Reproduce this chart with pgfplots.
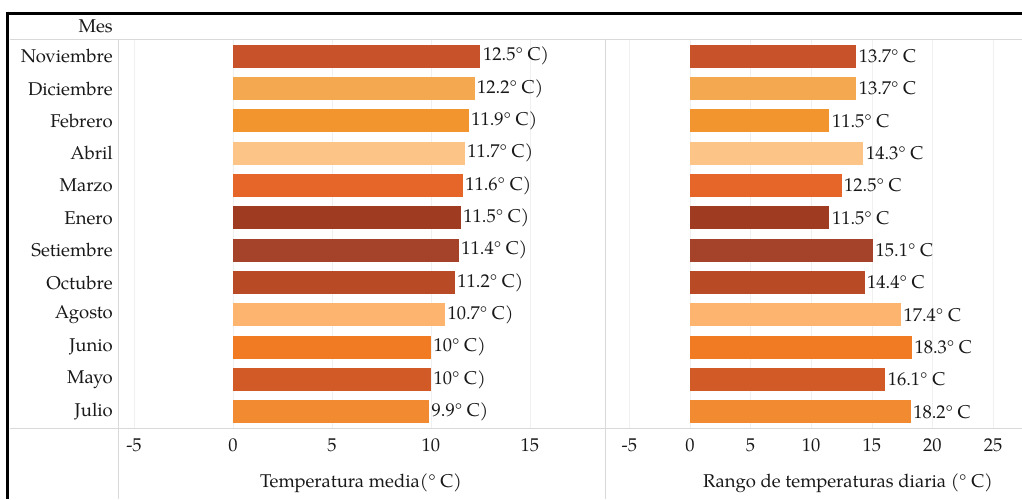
\documentclass[border=0pt]{standalone}
\usepackage{pgfplots}
\pgfplotsset{compat=1.18}
\usepackage{fontspec}
\setmainfont{TeX Gyre Pagella}

\definecolor{cNov}{HTML}{C8532A}
\definecolor{cDic}{HTML}{F4A951}
\definecolor{cFeb}{HTML}{F3952F}
\definecolor{cAbr}{HTML}{FDC488}
\definecolor{cMar}{HTML}{E6662A}
\definecolor{cEne}{HTML}{9E3B20}
\definecolor{cSet}{HTML}{A4422A}
\definecolor{cOct}{HTML}{B84A25}
\definecolor{cAgo}{HTML}{FDB46E}
\definecolor{cJun}{HTML}{F07B22}
\definecolor{cMay}{HTML}{D25A26}
\definecolor{cJul}{HTML}{F18A30}
\definecolor{sep}{HTML}{D9D9D9}

\newcommand\lbl{\fontsize{18.5}{20}\selectfont}

\pgfplotsset{
  panel/.style={
    scale only axis, height=388pt, anchor=south west,
    xbar, bar width=0.72, bar shift=0pt,
    y dir=reverse, ymin=-0.5, ymax=11.5,
    axis line style={draw=none}, major tick length=0pt,
    xmajorgrids, major grid style={draw=black!6},
    /pgf/number format/assume math mode=true,
    tick label style={font=\lbl, text=black!90},
    xticklabel style={yshift=-7pt},
    point meta=x,
    nodes near coords,
    every node near coord/.append style={font=\lbl, text=black!90, inner sep=2.5pt},
  },
}

\begin{document}
\begin{tikzpicture}
\path[use as bounding box] (0,0) rectangle (1022pt,499pt);

% separator lines
\draw[sep, line width=1pt] (10pt,459pt) -- (1022pt,459pt);
\draw[sep, line width=1pt] (10pt,71pt) -- (1022pt,71pt);
\draw[sep, line width=1pt] (118pt,459pt) -- (118pt,0pt);
\draw[sep, line width=1pt] (605pt,459pt) -- (605pt,0pt);

\begin{axis}[panel, at={(118pt,71pt)}, width=487pt,
  xmin=-5.81, xmax=18.79, xtick={-5,0,5,10,15},
  ytick={0,...,11},
  yticklabels={Noviembre,Diciembre,Febrero,Abril,Marzo,Enero,Setiembre,Octubre,Agosto,Junio,Mayo,Julio},
  yticklabel style={anchor=east, inner sep=0pt, xshift=-5pt},
  nodes near coords={\pgfmathprintnumber{\pgfplotspointmeta}° C)},
]
\addplot[fill=cNov, draw=none] coordinates {(12.5,0)};
\addplot[fill=cDic, draw=none] coordinates {(12.2,1)};
\addplot[fill=cFeb, draw=none] coordinates {(11.9,2)};
\addplot[fill=cAbr, draw=none] coordinates {(11.7,3)};
\addplot[fill=cMar, draw=none] coordinates {(11.6,4)};
\addplot[fill=cEne, draw=none] coordinates {(11.5,5)};
\addplot[fill=cSet, draw=none] coordinates {(11.4,6)};
\addplot[fill=cOct, draw=none] coordinates {(11.2,7)};
\addplot[fill=cAgo, draw=none] coordinates {(10.7,8)};
\addplot[fill=cJun, draw=none] coordinates {(10,9)};
\addplot[fill=cMay, draw=none] coordinates {(10,10)};
\addplot[fill=cJul, draw=none] coordinates {(9.9,11)};
\end{axis}

\begin{axis}[panel, at={(605pt,71pt)}, width=417pt,
  xmin=-7.01, xmax=27.39, xtick={-5,0,5,10,15,20,25},
  ytick=\empty,
  nodes near coords={\pgfmathprintnumber{\pgfplotspointmeta}° C},
]
\addplot[fill=cNov, draw=none] coordinates {(13.7,0)};
\addplot[fill=cDic, draw=none] coordinates {(13.7,1)};
\addplot[fill=cFeb, draw=none] coordinates {(11.5,2)};
\addplot[fill=cAbr, draw=none] coordinates {(14.3,3)};
\addplot[fill=cMar, draw=none] coordinates {(12.5,4)};
\addplot[fill=cEne, draw=none] coordinates {(11.5,5)};
\addplot[fill=cSet, draw=none] coordinates {(15.1,6)};
\addplot[fill=cOct, draw=none] coordinates {(14.4,7)};
\addplot[fill=cAgo, draw=none] coordinates {(17.4,8)};
\addplot[fill=cJun, draw=none] coordinates {(18.3,9)};
\addplot[fill=cMay, draw=none] coordinates {(16.1,10)};
\addplot[fill=cJul, draw=none] coordinates {(18.2,11)};
\end{axis}

% header and axis titles
\node[anchor=base east, inner sep=0pt, font=\lbl, text=black!90] at (113pt,466pt) {Mes};
\node[font=\lbl, text=black!90] at (361pt,16pt) {Temperatura media(° C)};
\node[font=\lbl, text=black!90] at (848pt,16pt) {Rango de temperaturas diaria (° C)};

% black frame
\draw[line width=3.5pt] (5.75pt,485.5pt) -- (1022pt,485.5pt);
\draw[line width=3.5pt] (7.5pt,487.25pt) -- (7.5pt,0pt);
\end{tikzpicture}
\end{document}
